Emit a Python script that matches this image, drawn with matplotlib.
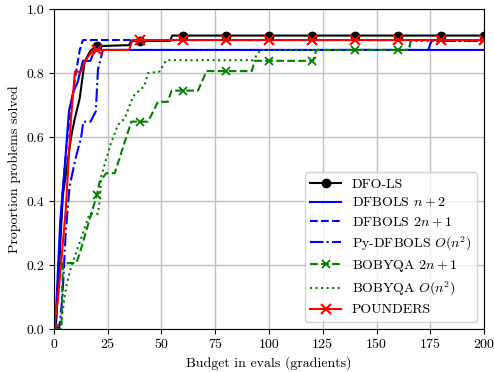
import matplotlib
matplotlib.use("Agg")
import matplotlib.pyplot as plt

plt.rcParams["font.family"] = "serif"
plt.rcParams["font.serif"] = ["cmr10"]
plt.rcParams["mathtext.fontset"] = "cm"
plt.rcParams["axes.unicode_minus"] = False
plt.rcParams["axes.formatter.use_mathtext"] = True

# Data profiles: budget (in gradient evals) vs proportion of problems solved
dfols_x = [0, 1, 2, 3, 4.2, 6, 8, 9.6, 12, 14.3, 17, 19.7, 20, 35, 36, 40, 54, 55, 60, 80, 100, 120, 140, 160, 180, 200]
dfols_y = [0, 0.02, 0.12, 0.27, 0.42, 0.5, 0.6, 0.653, 0.72, 0.835, 0.87, 0.882, 0.884, 0.887, 0.90, 0.90, 0.90, 0.917, 0.917, 0.917, 0.917, 0.917, 0.917, 0.917, 0.917, 0.917]

dfbols_np2_x = [0, 1, 2, 3, 5, 7, 9, 11, 12.5, 13.5, 17, 19, 200]
dfbols_np2_y = [0, 0.05, 0.2, 0.34, 0.5, 0.68, 0.74, 0.77, 0.81, 0.838, 0.838, 0.872, 0.872]

dfbols_2np1_x = [0, 1, 2, 3, 4, 5, 6, 7, 8, 9, 10, 11, 12, 13.5, 200]
dfbols_2np1_y = [0, 0.02, 0.15, 0.3, 0.42, 0.5, 0.58, 0.64, 0.69, 0.74, 0.79, 0.83, 0.87, 0.903, 0.903]

pydfbols_x = [0, 2.5, 4, 5.5, 7.3, 10, 12.7, 13.7, 17, 19.5, 20.5, 22.8, 174, 175.5, 200]
pydfbols_y = [0, 0, 0.1, 0.3, 0.445, 0.53, 0.60, 0.648, 0.648, 0.68, 0.81, 0.872, 0.872, 0.9, 0.9]

bobyqa_2np1_x = [0, 3.5, 4.2, 10.4, 12, 17.4, 20, 21.3, 24.4, 28.3, 36, 40, 43.8, 48.4, 53, 54.7, 60, 67, 71, 80, 92, 93.4, 100, 120, 120.5, 122, 140, 160, 165, 166, 180, 200]
bobyqa_2np1_y = [0, 0, 0.206, 0.206, 0.236, 0.36, 0.419, 0.46, 0.487, 0.487, 0.648, 0.648, 0.648, 0.71, 0.71, 0.745, 0.745, 0.745, 0.806, 0.806, 0.806, 0.838, 0.838, 0.838, 0.838, 0.872, 0.872, 0.872, 0.872, 0.903, 0.903, 0.903]

bobyqa_quad_x = [0, 3, 4, 5, 6, 7.3, 8.1, 12, 16.6, 20.5, 21.3, 22, 26, 29.8, 33, 36.8, 40, 42, 43.8, 49, 52.3, 92.7, 96, 165, 166, 200]
bobyqa_quad_y = [0, 0, 0.05, 0.1, 0.14, 0.175, 0.195, 0.27, 0.36, 0.36, 0.4, 0.476, 0.57, 0.638, 0.658, 0.727, 0.747, 0.758, 0.80, 0.804, 0.84, 0.84, 0.872, 0.872, 0.9, 0.9]

pounders_x = [0, 2, 5.5, 8, 9.8, 12.7, 14.3, 18.2, 20, 35, 36.5, 40, 60, 80, 100, 120, 140, 160, 180, 200]
pounders_y = [0, 0.1, 0.37, 0.66, 0.804, 0.804, 0.835, 0.872, 0.872, 0.872, 0.903, 0.903, 0.903, 0.903, 0.903, 0.903, 0.903, 0.903, 0.903, 0.903]

xticks = [0, 25, 50, 75, 100, 125, 150, 175, 200]
yticks = [0.0, 0.2, 0.4, 0.6, 0.8, 1.0]


def marks(xs, step=20):
    return [i for i, x in enumerate(xs) if x % step == 0]


fig = plt.figure(figsize=(4.94, 3.72), dpi=100)
ax = fig.add_axes([0.109, 0.1156, 0.871, 0.8602])

ax.plot(dfols_x, dfols_y, color="k", linestyle="-", marker="o", markersize=6,
        markevery=marks(dfols_x), label="DFO-LS")
ax.plot(dfbols_np2_x, dfbols_np2_y, color="b", linestyle="-",
        label=r"DFBOLS $n+2$")
ax.plot(dfbols_2np1_x, dfbols_2np1_y, color="b", linestyle="--",
        label=r"DFBOLS $2n+1$")
ax.plot(pydfbols_x, pydfbols_y, color="b", linestyle="-.",
        label=r"Py-DFBOLS $O(n^2)$")
ax.plot(bobyqa_2np1_x, bobyqa_2np1_y, color="g", linestyle="--", marker="x",
        markersize=6, markeredgewidth=1.3, markevery=marks(bobyqa_2np1_x),
        label=r"BOBYQA $2n+1$")
ax.plot(bobyqa_quad_x, bobyqa_quad_y, color="g", linestyle=":",
        label=r"BOBYQA $O(n^2)$")
ax.plot(pounders_x, pounders_y, color="r", linestyle="-", marker="x",
        markersize=7, markeredgewidth=1.5, markevery=marks(pounders_x),
        label="POUNDERS")

ax.set_xlim(0, 200)
ax.set_ylim(0, 1)
ax.set_xticks(xticks)
ax.set_yticks(yticks)
ax.set_xticklabels([str(t) for t in xticks])
ax.set_yticklabels([f"{t:.1f}" for t in yticks])
ax.grid(True, color="#c0c0c0", linewidth=1.0)
ax.set_axisbelow(True)
ax.tick_params(labelsize=10)
ax.set_xlabel("Budget in evals (gradients)", fontsize=10)
ax.set_ylabel("Proportion problems solved", fontsize=10)
ax.legend(loc="lower right", fontsize=10, labelspacing=0.4, handlelength=2.2)

fig.savefig("out.png", dpi=100)
